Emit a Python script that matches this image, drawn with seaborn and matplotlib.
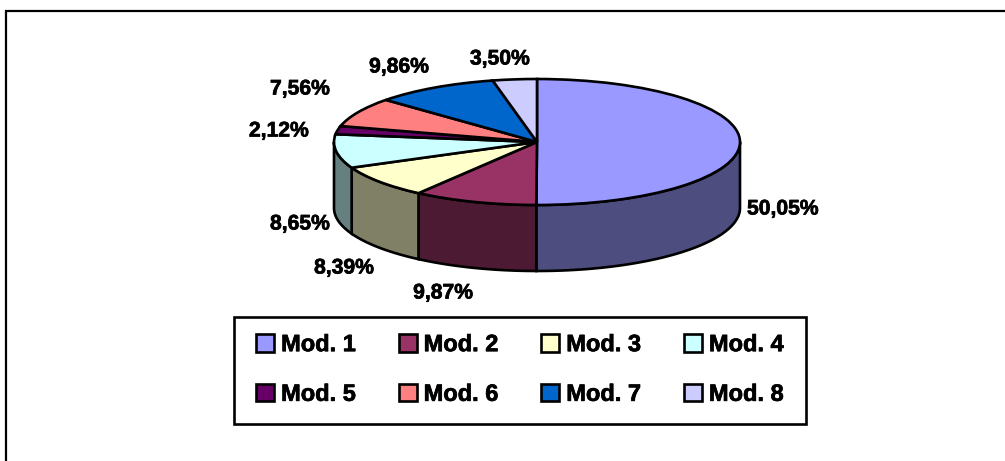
import numpy as np
import matplotlib
matplotlib.use("Agg")
import matplotlib.pyplot as plt
import matplotlib.patheffects as pe
from matplotlib.patches import Rectangle
import seaborn as sns

W, H = 1005, 461

modules = ["Mod. 1", "Mod. 2", "Mod. 3", "Mod. 4", "Mod. 5", "Mod. 6", "Mod. 7", "Mod. 8"]
shares = [50.05, 9.87, 8.39, 8.65, 2.12, 7.56, 9.86, 3.50]
share_labels = ["50,05%", "9,87%", "8,39%", "8,65%", "2,12%", "7,56%", "9,86%", "3,50%"]
colors = ["#9999FF", "#993366", "#FFFFCC", "#CCFFFF", "#660066", "#FF8080", "#0066CC", "#CCCCFF"]

# centros de las etiquetas, en pixeles de la imagen
label_xy = [(783, 209), (443, 293), (344, 268), (300, 224), (279, 131), (300, 89), (399, 67), (500, 59)]

sns.set_theme(style="white")
plt.rcParams["font.family"] = ["Liberation Sans", "DejaVu Sans"]
plt.rcParams["font.weight"] = "bold"
palette = sns.color_palette(colors)

# geometria de la elipse en pixeles
cx, cy, rx, ry, depth = 537, 142, 203, 63, 66
lw = 1.9
# trazo fino para engordar el texto como en el original
heavy = [pe.withStroke(linewidth=0.5, foreground="black")]

fig = plt.figure(figsize=(W / 100, H / 100), dpi=100)
fig.patch.set_facecolor("white")

ax = fig.add_axes([0, 0, 1, 1])
wedges, _ = ax.pie(shares, colors=palette, startangle=90, counterclock=False, radius=1,
                   wedgeprops={"edgecolor": "black", "linewidth": lw, "zorder": 3})
ax.set_aspect("auto")
ax.set_xlim(-cx / rx, (W - cx) / rx)
ax.set_ylim((cy - H) / ry, cy / ry)
ax.axis("off")

# cara lateral: solo la parte delantera de cada porcion (90 a 270 grados desde arriba)
d = depth / ry
edges = np.cumsum([0] + shares) / sum(shares) * 360
for i, col in enumerate(palette):
    a0, a1 = max(edges[i], 90), min(edges[i + 1], 270)
    if a0 >= a1:
        continue
    t = np.radians(np.linspace(a0, a1, 80))
    x, y = np.sin(t), np.cos(t)
    px = np.concatenate([x, x[::-1]])
    py = np.concatenate([y, y[::-1] - d])
    dark = tuple(c * 0.5 for c in col)
    ax.fill(px, py, facecolor=dark, edgecolor="black", linewidth=lw, zorder=2, clip_on=False)

for txt, (lx, ly) in zip(share_labels, label_xy):
    fig.text(lx / W, 1 - ly / H, txt, ha="center", va="center", fontsize=15.2,
             fontweight="bold", color="black", path_effects=heavy)

# marco exterior: el borde derecho y el inferior quedan fuera de la imagen
fig.add_artist(Rectangle((6 / W, -0.02), 1.02, 1.02 - 11.5 / H, transform=fig.transFigure,
                         fill=False, edgecolor="black", linewidth=1.6))

# marco de la leyenda
fig.add_artist(Rectangle((234 / W, 1 - 423.5 / H), 572 / W, 107 / H, transform=fig.transFigure,
                         fill=False, edgecolor="black", linewidth=1.9))

# la leyenda rellena por columnas, asi que se reordena para leer por filas
order = [0, 4, 1, 5, 2, 6, 3, 7]
leg = fig.legend([wedges[i] for i in order], [modules[i] for i in order], ncol=4, loc="center",
                 bbox_to_anchor=(520 / W, 1 - 369.5 / H), frameon=False, fontsize=17, labelcolor="black",
                 handlelength=0.76, handleheight=0.76, handletextpad=0.3, columnspacing=1.8,
                 labelspacing=1.13, borderpad=0)
for h in leg.legend_handles:
    h.set_linewidth(1.9)
for t in leg.get_texts():
    t.set_path_effects(heavy)

fig.savefig("out.png", dpi=100)
